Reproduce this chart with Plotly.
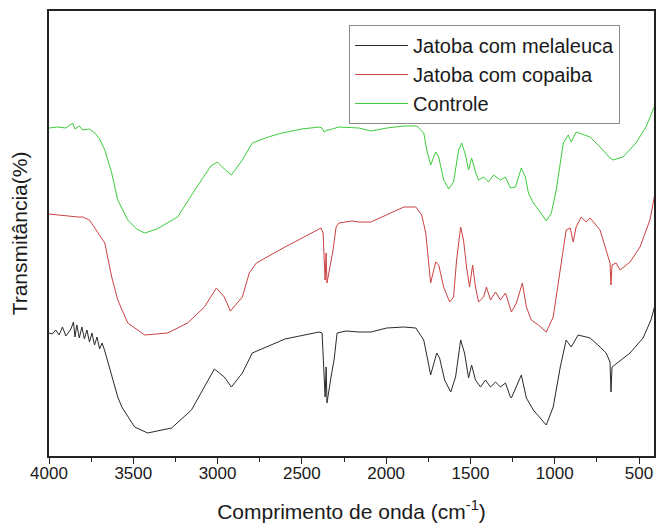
import plotly.graph_objects as go

# Wavenumbers (cm^-1) and transmittance (arbitrary units, curves offset)
wn_controle = [4000, 3950, 3900, 3860, 3846, 3820, 3800, 3760, 3728, 3700, 3669, 3628, 3592, 3533,
               3480, 3432, 3360, 3237, 3150, 3078, 3040, 3001, 2960, 2918, 2853, 2794, 2700, 2617,
               2500, 2398, 2380, 2368, 2350, 2339, 2280, 2161, 2090, 1996, 1895, 1818, 1777, 1759,
               1736, 1706, 1688, 1659, 1629, 1600, 1570, 1552, 1529, 1511, 1493, 1470, 1452, 1422,
               1393, 1363, 1322, 1292, 1263, 1233, 1198, 1174, 1156, 1127, 1085, 1050, 1020, 991,
               949, 920, 902, 873, 790, 731, 672, 654, 595, 518, 459, 417, 405]
t_controle = [329, 330, 329, 334, 328, 331, 327, 328, 324, 318, 307, 284, 257, 237,
              228, 224, 228, 240, 263, 282, 291, 295, 288, 282, 297, 314, 320, 324,
              328, 330, 329, 325, 327, 327, 330, 329, 326, 329, 331, 331, 324, 307,
              292, 305, 300, 277, 268, 275, 307, 314, 302, 287, 299, 285, 277, 280,
              275, 282, 277, 280, 269, 270, 289, 280, 264, 254, 245, 236, 244, 267,
              314, 322, 315, 325, 320, 310, 299, 297, 300, 314, 330, 347, 352]

wn_copaiba = [4000, 3900, 3829, 3800, 3760, 3728, 3669, 3628, 3592, 3533, 3432, 3296, 3178, 3078,
              3007, 2960, 2924, 2853, 2812, 2770, 2600, 2386, 2374, 2362, 2356, 2351, 2333, 2315,
              2297, 2280, 2203, 2161, 2090, 1996, 1895, 1824, 1789, 1765, 1748, 1736, 1706, 1688,
              1659, 1623, 1600, 1582, 1558, 1541, 1523, 1505, 1487, 1470, 1452, 1422, 1405, 1381,
              1351, 1322, 1292, 1257, 1227, 1192, 1168, 1139, 1097, 1050, 1009, 967, 932, 908,
              890, 873, 843, 813, 790, 731, 695, 672, 666, 660, 636, 612, 553, 494, 435, 405]
t_copaiba = [243, 241, 240, 240, 237, 229, 214, 180, 157, 134, 122, 124, 134, 150,
             169, 160, 146, 160, 184, 194, 210, 229, 224, 177, 204, 174, 190, 207,
             230, 234, 236, 235, 235, 242, 250, 250, 242, 224, 190, 174, 195, 192,
             170, 155, 160, 197, 230, 217, 190, 170, 192, 170, 155, 160, 170, 157,
             165, 157, 164, 145, 154, 174, 150, 137, 132, 125, 140, 190, 227, 229,
             215, 230, 240, 235, 239, 227, 207, 194, 172, 192, 194, 187, 195, 210, 237, 264]

wn_melaleuca = [4000, 3980, 3960, 3940, 3920, 3900, 3870, 3855, 3846, 3835, 3820, 3805, 3790, 3775,
                3760, 3745, 3730, 3715, 3700, 3685, 3669, 3628, 3592, 3568, 3492, 3415, 3273, 3155,
                3078, 3019, 2960, 2918, 2853, 2794, 2600, 2398, 2380, 2362, 2356, 2351, 2327, 2309,
                2291, 2238, 2161, 2090, 1996, 1895, 1824, 1777, 1753, 1736, 1700, 1683, 1653, 1617,
                1588, 1558, 1535, 1511, 1493, 1470, 1440, 1411, 1381, 1351, 1322, 1292, 1263, 1257,
                1198, 1168, 1127, 1085, 1050, 1009, 967, 932, 902, 861, 790, 731, 695, 672,
                666, 660, 624, 553, 476, 429, 405]
t_melaleuca = [124, 123, 127, 122, 130, 121, 128, 135, 120, 132, 119, 130, 118, 127,
               115, 124, 112, 120, 108, 114, 106, 80, 60, 50, 30, 24, 29, 47,
               70, 88, 80, 70, 84, 104, 118, 125, 124, 60, 90, 54, 80, 97,
               124, 126, 125, 125, 129, 130, 129, 117, 97, 82, 104, 99, 77, 65,
               80, 117, 104, 79, 92, 77, 70, 77, 70, 75, 70, 74, 60, 59,
               82, 59, 47, 39, 32, 50, 90, 117, 110, 122, 119, 110, 104, 95,
               65, 90, 95, 104, 119, 137, 152]

series_names = ["Jatoba com melaleuca", "Jatoba com copaiba", "Controle"]
series_colors = ["#2a2a2a", "#cc4040", "#3ccc3c"]

x_tickvals = [4000, 3500, 3000, 2500, 2000, 1500, 1000, 500]

fig = go.Figure()
for name, wn, t, c in zip(series_names,
                          [wn_melaleuca, wn_copaiba, wn_controle],
                          [t_melaleuca, t_copaiba, t_controle],
                          series_colors):
    fig.add_trace(go.Scatter(x=wn, y=t, mode="lines", name=name,
                             line=dict(color=c, width=1)))

fig.update_layout(
    width=657, height=525,
    margin=dict(l=49, r=1, t=11, b=69),
    paper_bgcolor="white", plot_bgcolor="white",
    font=dict(family="Liberation Sans, Arial, sans-serif", color="#1a1a1a"),
    showlegend=True,
    legend=dict(x=0.496, y=0.9685, xanchor="left", yanchor="top",
                bgcolor="white", bordercolor="#8a8a8a", borderwidth=1,
                font=dict(size=20, color="#1a1a1a"), tracegroupgap=0,
                itemwidth=53),
)
fig.update_xaxes(
    range=[4000, 411], autorange=False,
    tickvals=x_tickvals, ticktext=[str(v) for v in x_tickvals],
    ticks="outside", ticklen=6, tickwidth=1.2, tickcolor="#222",
    minor=dict(dtick=250, ticks="outside", ticklen=4, tickcolor="#222", tickwidth=1),
    showline=True, linecolor="#222", linewidth=1.5, mirror=True,
    showgrid=False, zeroline=False,
    tickfont=dict(size=17),
    ticklabelstandoff=-5,
    title=dict(text="Comprimento de onda (cm<sup>-1</sup>)", font=dict(size=21), standoff=22),
)
fig.update_yaxes(
    range=[1, 446], autorange=False,
    showticklabels=False, ticks="",
    showline=True, linecolor="#222", linewidth=1.5, mirror=True,
    showgrid=False, zeroline=False,
    title=dict(text="Transmitância(%)", font=dict(size=21), standoff=14),
)

fig.write_html("out.html")
